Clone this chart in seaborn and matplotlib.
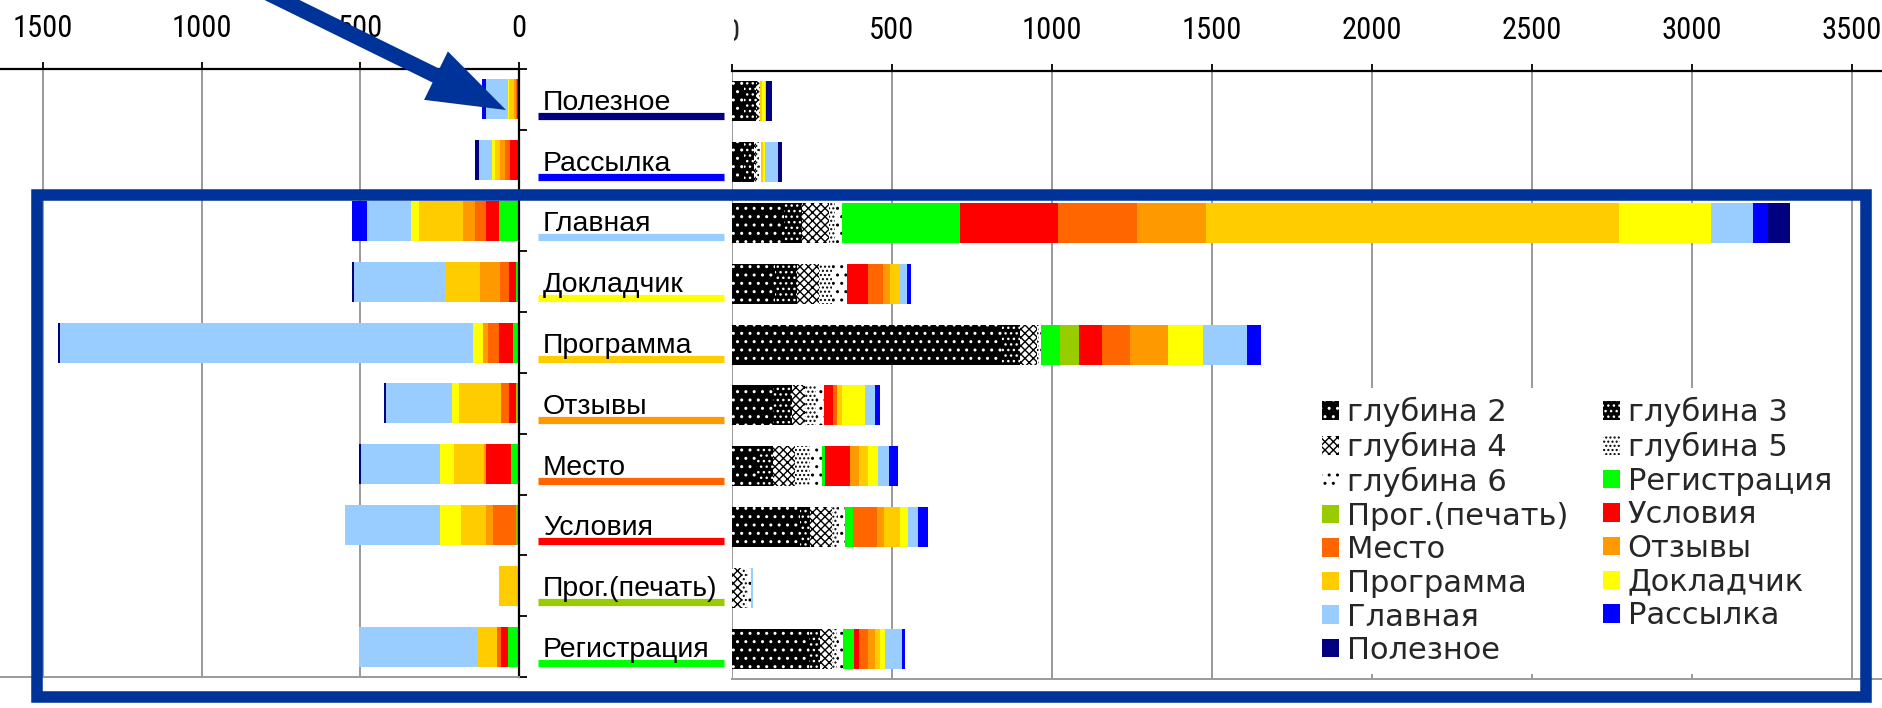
import numpy as np
import pandas as pd
import matplotlib
matplotlib.use("Agg")
import matplotlib.pyplot as plt
import seaborn as sns
from matplotlib import font_manager
from matplotlib.font_manager import FontProperties
from matplotlib.patches import Patch, Polygon, Rectangle
from matplotlib.transforms import Bbox, TransformedBbox

# ---------------------------------------------------------------- data
pages = ["Полезное", "Рассылка", "Главная", "Докладчик", "Программа",
         "Отзывы", "Место", "Условия", "Прог.(печать)", "Регистрация"]

depth_levels = ["глубина 2", "глубина 3", "глубина 4", "глубина 5", "глубина 6"]
page_series = ["Регистрация", "Прог.(печать)", "Условия", "Место", "Отзывы",
               "Программа", "Докладчик", "Главная", "Рассылка", "Полезное"]
page_colors = ["#00FF00", "#99CC00", "#FF0000", "#FF6600", "#FF9900",
               "#FFCC00", "#FFFF00", "#99CCFF", "#0000FF", "#000080"]

# depth levels are drawn as black/white dot patterns
depth_face = ["black", "black", "white", "white", "white"]
depth_hatch = ["..", "...", "xxxx", "....", ".."]
depth_ink = ["white", "white", "black", "black", "black"]

# right panel: visits from each page, by depth level and then by target page
fwd_poleznoe    = [40, 38, 6, 4, 2,      0, 0, 0, 0, 0,       6, 8, 5, 0, 19]
fwd_rassylka    = [40, 30, 8, 8, 6,      0, 0, 0, 0, 0,       6, 8, 39, 0, 14]
fwd_glavnaya    = [163, 57, 84, 19, 21,  370, 0, 306, 248, 215, 1291, 287, 132, 46, 69]
fwd_dokladchik  = [136, 68, 70, 39, 47,  0, 0, 66, 46, 24,    26, 0, 26, 14, 0]
fwd_programma   = [845, 57, 52, 7, 7,    59, 59, 71, 87, 120, 0, 108, 138, 43, 0]
fwd_otzyvy      = [131, 58, 41, 34, 24,  0, 0, 28, 13, 0,     16, 71, 33, 14, 0]
fwd_mesto       = [79, 52, 68, 47, 36,   10, 0, 79, 0, 26,    29, 31, 36, 27, 0]
fwd_usloviya    = [215, 31, 68, 20, 21,  26, 0, 0, 73, 21,    52, 24, 31, 31, 0]
fwd_prog_pechat = [0, 0, 32, 16, 13,     0, 0, 0, 0, 0,       0, 0, 5, 0, 0]
fwd_registr     = [241, 36, 37, 15, 19,  36, 0, 13, 29, 23,   16, 15, 54, 9, 0]

# left panel: visits arriving at each page, by source page
in_poleznoe    = [0, 0, 6, 5, 6, 13, 5, 68, 14, 0]
in_rassylka    = [3, 0, 26, 14, 16, 18, 8, 40, 0, 13]
in_glavnaya    = [63, 0, 42, 35, 37, 138, 27, 136, 49, 0]
in_dokladchik  = [8, 3, 22, 28, 63, 108, 0, 288, 0, 6]
in_programma   = [19, 0, 44, 35, 16, 0, 31, 1303, 0, 5]
in_otzyvy      = [3, 5, 22, 28, 0, 131, 21, 208, 0, 7]
in_mesto       = [26, 0, 79, 0, 5, 95, 44, 249, 0, 5]
in_usloviya    = [5, 5, 0, 73, 21, 79, 66, 299, 0, 0]
in_prog_pechat = [0, 0, 0, 0, 0, 63, 0, 0, 0, 0]
in_registr     = [35, 0, 21, 13, 0, 64, 0, 372, 0, 0]

right_ticks = [0, 500, 1000, 1500, 2000, 2500, 3000, 3500]
left_ticks = [0, 500, 1000, 1500]

fwd = pd.DataFrame([fwd_poleznoe, fwd_rassylka, fwd_glavnaya, fwd_dokladchik,
                    fwd_programma, fwd_otzyvy, fwd_mesto, fwd_usloviya,
                    fwd_prog_pechat, fwd_registr],
                   index=pages, columns=depth_levels + page_series)
inc = pd.DataFrame([in_poleznoe, in_rassylka, in_glavnaya, in_dokladchik,
                    in_programma, in_otzyvy, in_mesto, in_usloviya,
                    in_prog_pechat, in_registr],
                   index=pages, columns=page_series)

# ---------------------------------------------------------------- style
sns.set_theme(style="white")
plt.rcParams["font.family"] = ["Liberation Sans", "DejaVu Sans"]
plt.rcParams["hatch.linewidth"] = 1.0

# narrow digits for the axis numbers when a condensed face is present
_fonts = font_manager.fontManager.ttflist
_names = {f.name for f in _fonts}
if "Liberation Sans Narrow" in _names:
    TICK_PROP = FontProperties(family="Liberation Sans Narrow", size=23)
elif "Roboto Condensed" in _names:
    TICK_PROP = FontProperties(family="Roboto Condensed", size=22)
elif any(f.name == "DejaVu Sans" and str(f.stretch) in ("condensed", "semi-condensed")
         for f in _fonts):
    TICK_PROP = FontProperties(family="DejaVu Sans", stretch="condensed", size=21)
else:
    TICK_PROP = FontProperties(family="Liberation Sans", size=20.5)

W, H = 1882, 708
fig = plt.figure(figsize=(W / 100, H / 100), dpi=100, facecolor="white")


def box(x0, y0, x1, y1):
    """Pixel box (top-left origin) -> figure fraction rect."""
    return [x0 / W, 1 - y1 / H, (x1 - x0) / W, (y1 - y0) / H]


GRID = "#9a9a9a"
BLUE = "#003399"

ax_l = fig.add_axes(box(0, 69, 519, 677))
ax_m = fig.add_axes(box(520, 69, 731.5, 677))
ax_r = fig.add_axes(box(731.5, 71, W, 679))


def stacked(ax, frame, faces, hatches, inks):
    cum = frame.cumsum(axis=1)
    for k in range(frame.shape[1] - 1, -1, -1):
        sns.barplot(x=cum.iloc[:, k].to_numpy(), y=pages, orient="h", ax=ax,
                    color=faces[k], saturation=1, width=0.66, errorbar=None,
                    linewidth=0, edgecolor=inks[k], hatch=hatches[k])


stacked(ax_r, fwd,
        depth_face + page_colors,
        depth_hatch + [None] * len(page_colors),
        depth_ink + page_colors)
stacked(ax_l, inc, page_colors, [None] * len(page_colors), page_colors)


def frame_axes(ax, ticks, xlim):
    ax.set_xlim(*xlim)
    ax.set_ylim(9.5, -0.5)
    ax.set_xlabel("")
    ax.set_ylabel("")
    ax.set_facecolor("none")
    ax.set_axisbelow(True)
    ax.xaxis.tick_top()
    ax.set_xticks(ticks)
    ax.xaxis.grid(True, color=GRID, linewidth=1.4)
    ax.yaxis.grid(False)
    ax.tick_params(axis="x", which="both", direction="out", length=5, width=1.3,
                   color="black", pad=14, labelcolor="black",
                   top=True, bottom=False, labeltop=True, labelbottom=False)
    for side in ("left", "right", "top", "bottom"):
        ax.spines[side].set_visible(False)
    ax.spines["top"].set_visible(True)
    ax.spines["top"].set_color("black")
    ax.spines["top"].set_linewidth(1.6)
    ax.spines["bottom"].set_visible(True)
    ax.spines["bottom"].set_color(GRID)
    ax.spines["bottom"].set_linewidth(1.4)


def style_ticklabels(ax):
    for lbl in ax.get_xticklabels():
        lbl.set_fontproperties(TICK_PROP)


# left panel: reversed axis growing to the left from 0
frame_axes(ax_l, left_ticks, (1636, 0))
ax_l.set_xticklabels([str(t) for t in left_ticks])
style_ticklabels(ax_l)
ax_l.spines["right"].set_visible(True)
ax_l.spines["right"].set_color("black")
ax_l.spines["right"].set_linewidth(1.6)
ax_l.yaxis.tick_right()
ax_l.set_yticks(np.arange(-0.5, 10, 1))
ax_l.set_yticklabels([])
ax_l.tick_params(axis="y", direction="out", length=6, width=1.3, color="black",
                 left=False, right=True)

# right panel
frame_axes(ax_r, right_ticks, (0, 3595))
ax_r.set_xticklabels([""] + [str(t) for t in right_ticks[1:]])
style_ticklabels(ax_r)
ax_r.set_yticks([])
zero = ax_r.annotate("0", xy=(0, 1), xycoords=("data", "axes fraction"),
                     xytext=(0, 5 * 0.72 + 14), textcoords="offset points",
                     ha="center", va="bottom", fontproperties=TICK_PROP,
                     annotation_clip=False)
zero.set_clip_on(True)
zero.set_clip_box(TransformedBbox(Bbox([[734 / W, 0], [1, 1]]), fig.transFigure))

# middle column: page names with their colour keys
ax_m.set_xlim(520, 731.5)
ax_m.set_ylim(9.5, -0.5)
ax_m.axis("off")
key_color = dict(zip(page_series, page_colors))
for i, name in enumerate(pages):
    ax_m.text(543, i + 0.17, name, fontsize=20.5, family="Liberation Sans",
              va="baseline", ha="left", color="black")
    ax_m.hlines(i + 0.27, 538, 724, color=key_color[name], linewidth=5.2,
                capstyle="butt")

# legend
handles = []
labels = []
for name, face, hat, ink in zip(depth_levels, depth_face, depth_hatch, depth_ink):
    handles.append(Patch(facecolor=face, edgecolor=ink, hatch=hat, linewidth=0))
    labels.append(name)
for name, col in zip(page_series, page_colors):
    handles.append(Patch(facecolor=col, edgecolor=col, linewidth=0))
    labels.append(name)
# two columns filled row by row
order = [0, 2, 4, 6, 8, 10, 12, 14, 1, 3, 5, 7, 9, 11, 13]
leg = ax_r.legend([handles[i] for i in order], [labels[i] for i in order],
                  ncol=2, loc="upper left",
                  bbox_to_anchor=(1313 / W, 1 - 388 / H),
                  bbox_transform=fig.transFigure,
                  prop={"family": "DejaVu Sans", "size": 22},
                  handlelength=0.55, handleheight=0.55, handletextpad=0.25,
                  columnspacing=1.15, labelspacing=0.15, borderpad=0.3,
                  borderaxespad=0, frameon=True, fancybox=False,
                  facecolor="white", edgecolor="none", framealpha=1)

# highlight frame and pointer arrow
ax_o = fig.add_axes([0, 0, 1, 1], zorder=20)
ax_o.set_xlim(0, W)
ax_o.set_ylim(H, 0)
ax_o.axis("off")
ax_o.patch.set_alpha(0)
ax_o.add_patch(Rectangle((37.5, 195), 1866 - 37.5, 697 - 195, fill=False,
                         edgecolor=BLUE, linewidth=8.3, joinstyle="miter"))
tip = np.array([506.0, 110.0])
u = np.array([224.0, 110.0])
u /= np.linalg.norm(u)
n = np.array([-u[1], u[0]])
base = tip - 78 * u
tail = base - 400 * u
arrow = [tail - 7.7 * n, base - 7.7 * n, base - 27 * n, tip,
         base + 27 * n, base + 7.7 * n, tail + 7.7 * n]
ax_o.add_patch(Polygon(arrow, closed=True, facecolor=BLUE, edgecolor="none"))

fig.savefig("out.png", dpi=100, facecolor="white")
